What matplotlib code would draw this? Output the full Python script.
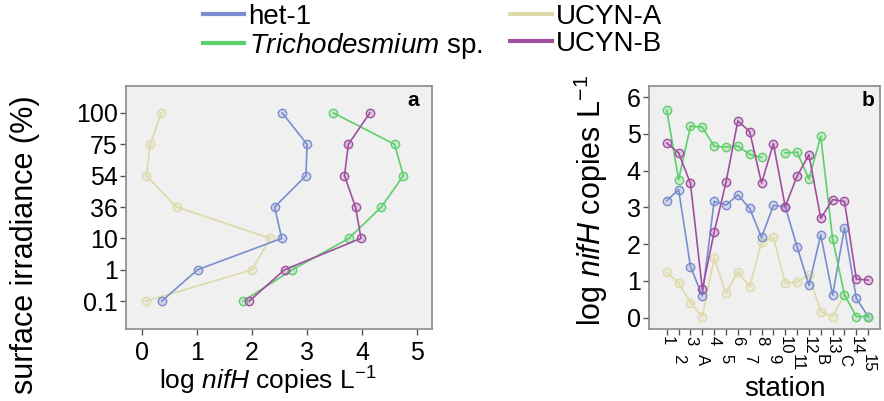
import numpy as np
import matplotlib
matplotlib.use('Agg')
import matplotlib.pyplot as plt
from matplotlib.colors import to_rgba
from matplotlib.lines import Line2D

plt.rcParams['font.family'] = ['Liberation Sans', 'DejaVu Sans']
plt.rcParams['mathtext.fontset'] = 'custom'
plt.rcParams['mathtext.rm'] = 'Liberation Sans'
plt.rcParams['mathtext.it'] = 'Liberation Sans:italic'

# Панель a: глубина (по % освещенности) и log nifH
irradiance = ['100', '75', '54', '36', '10', '1', '0.1']
a_het1 = [2.55, 3.00, 2.98, 2.41, 2.54, 1.01, 0.36]
a_tricho = [3.48, 4.59, 4.75, 4.35, 3.76, 2.73, 1.84]
a_ucyna = [0.35, 0.15, 0.08, 0.63, 2.33, 2.00, 0.07]
a_ucynb = [4.14, 3.75, 3.68, 3.88, 3.98, 2.59, 1.95]

# Панель b: станции
stations = ['1', '2', '3', 'A', '4', '5', '6', '7', '8', '9', '10', '11',
            '12', 'B', '13', 'C', '14', '15']
nan = np.nan
b_het1 = [3.18, 3.48, 1.39, 0.59, 3.16, 3.06, 3.34, 2.97, 2.18, 3.05, 3.02,
          1.93, 0.88, 2.25, 0.61, 2.44, 0.52, 0.03]
b_tricho = [5.64, 3.75, 5.21, 5.18, 4.66, 4.64, 4.67, 4.44, 4.36, nan, 4.48,
            4.50, 3.77, 4.93, 2.14, 0.62, 0.03, 0.03]
b_ucyna = [1.23, 0.94, 0.41, 0.03, 1.62, 0.66, 1.25, 0.84, 2.05, 2.18, 0.94,
           0.97, 1.16, 0.16, 0.03, 0.62, nan, nan]
b_ucynb = [4.75, 4.48, 3.65, 0.77, 2.32, 3.68, 5.35, 5.06, 3.66, 4.73, 3.02,
           3.85, 4.43, 2.70, 3.21, 3.16, 1.05, 1.02]

c_het1 = '#7a8dcf'
c_tricho = '#5fcf6c'
c_ucyna = '#dedaa9'
c_ucynb = '#a04fa0'

series = [
    ('UCYN-A', a_ucyna, b_ucyna, c_ucyna),
    ('het-1', a_het1, b_het1, c_het1),
    ('$\\it{Trichodesmium}$ sp.', a_tricho, b_tricho, c_tricho),
    ('UCYN-B', a_ucynb, b_ucynb, c_ucynb),
]

W, H = 884, 401
fig = plt.figure(figsize=(W / 100, H / 100), dpi=100)

def px_axes(l, r, t, b):
    return fig.add_axes([l / W, 1 - b / H, (r - l) / W, (b - t) / H])

ax_a = px_axes(126, 432, 86, 329)
ax_b = px_axes(649, 880, 86, 329)

def style(ax):
    ax.set_facecolor('#f0f0f0')
    for s in ax.spines.values():
        s.set_color('#8a8a8a')
        s.set_linewidth(1.2)
    ax.tick_params(direction='out', length=4, width=1, color='#555555')

def draw(ax, x, y, c):
    ax.plot(x, y, color=c, lw=1.2, marker='o', ms=6,
            mfc=to_rgba(c, 0.25), mec=c, mew=1.0)

# --- панель a
y_idx = np.arange(len(irradiance))
for name, av, bv, c in series:
    draw(ax_a, av, y_idx, c)
style(ax_a)
ax_a.set_xlim(-0.29, 5.27)
ax_a.set_ylim(6.89, -0.86)
ax_a.set_xticks(range(6))
ax_a.set_yticks(y_idx)
ax_a.set_yticklabels(irradiance)
ax_a.tick_params(axis='y', labelsize=18, pad=2)
ax_a.tick_params(axis='x', labelsize=18, pad=5)
ax_a.set_xlabel('log $\\it{nifH}$ copies L$^{-1}$', fontsize=19)
ax_a.set_ylabel('surface irradiance (%)', fontsize=22)
ax_a.xaxis.set_label_coords(0.464, -0.148)
ax_a.yaxis.set_label_coords(-0.28, 0.346)
ax_a.text(0.94, 0.94, 'a', transform=ax_a.transAxes, fontsize=15,
          fontweight='bold', ha='center', va='center')

# --- панель b
x_idx = np.arange(len(stations))
for name, av, bv, c in series:
    draw(ax_b, x_idx, bv, c)
style(ax_b)
ax_b.set_xlim(-1.5, 18.0)
ax_b.set_ylim(-0.31, 6.3)
ax_b.set_yticks(range(7))
ax_b.tick_params(axis='y', labelsize=18, pad=2)
ax_b.set_xticks(x_idx[::2], [stations[i] for i in x_idx[::2]], rotation=270)
ax_b.set_xticks(x_idx[1::2], [stations[i] for i in x_idx[1::2]],
                rotation=270, minor=True)
ax_b.tick_params(axis='x', which='both', direction='out', length=4,
                 width=1, color='#555555', labelsize=12)
ax_b.tick_params(axis='x', which='major', pad=1)
ax_b.tick_params(axis='x', which='minor', pad=14)
ax_b.set_xlabel('station', fontsize=20)
ax_b.set_ylabel('log $\\it{nifH}$ copies L$^{-1}$', fontsize=22)
ax_b.xaxis.set_label_coords(0.589, -0.195)
ax_b.yaxis.set_label_coords(-0.17, 0.53)
ax_b.text(0.95, 0.94, 'b', transform=ax_b.transAxes, fontsize=15,
          fontweight='bold', ha='center', va='center')

# --- легенда
handles = [Line2D([], [], color=c_het1, lw=3),
           Line2D([], [], color=c_tricho, lw=3),
           Line2D([], [], color=c_ucyna, lw=3),
           Line2D([], [], color=c_ucynb, lw=3)]
labels = ['het-1', '$\\it{Trichodesmium}$ sp.', 'UCYN-A', 'UCYN-B']
fig.legend(handles, labels, ncol=2, loc='upper left',
           bbox_to_anchor=(200 / W, 0.998), frameon=False, fontsize=20,
           handlelength=1.5, handletextpad=0.15, columnspacing=1.0,
           labelspacing=0.05, borderaxespad=0.0, borderpad=0.1)

fig.savefig('out.png', dpi=100)
